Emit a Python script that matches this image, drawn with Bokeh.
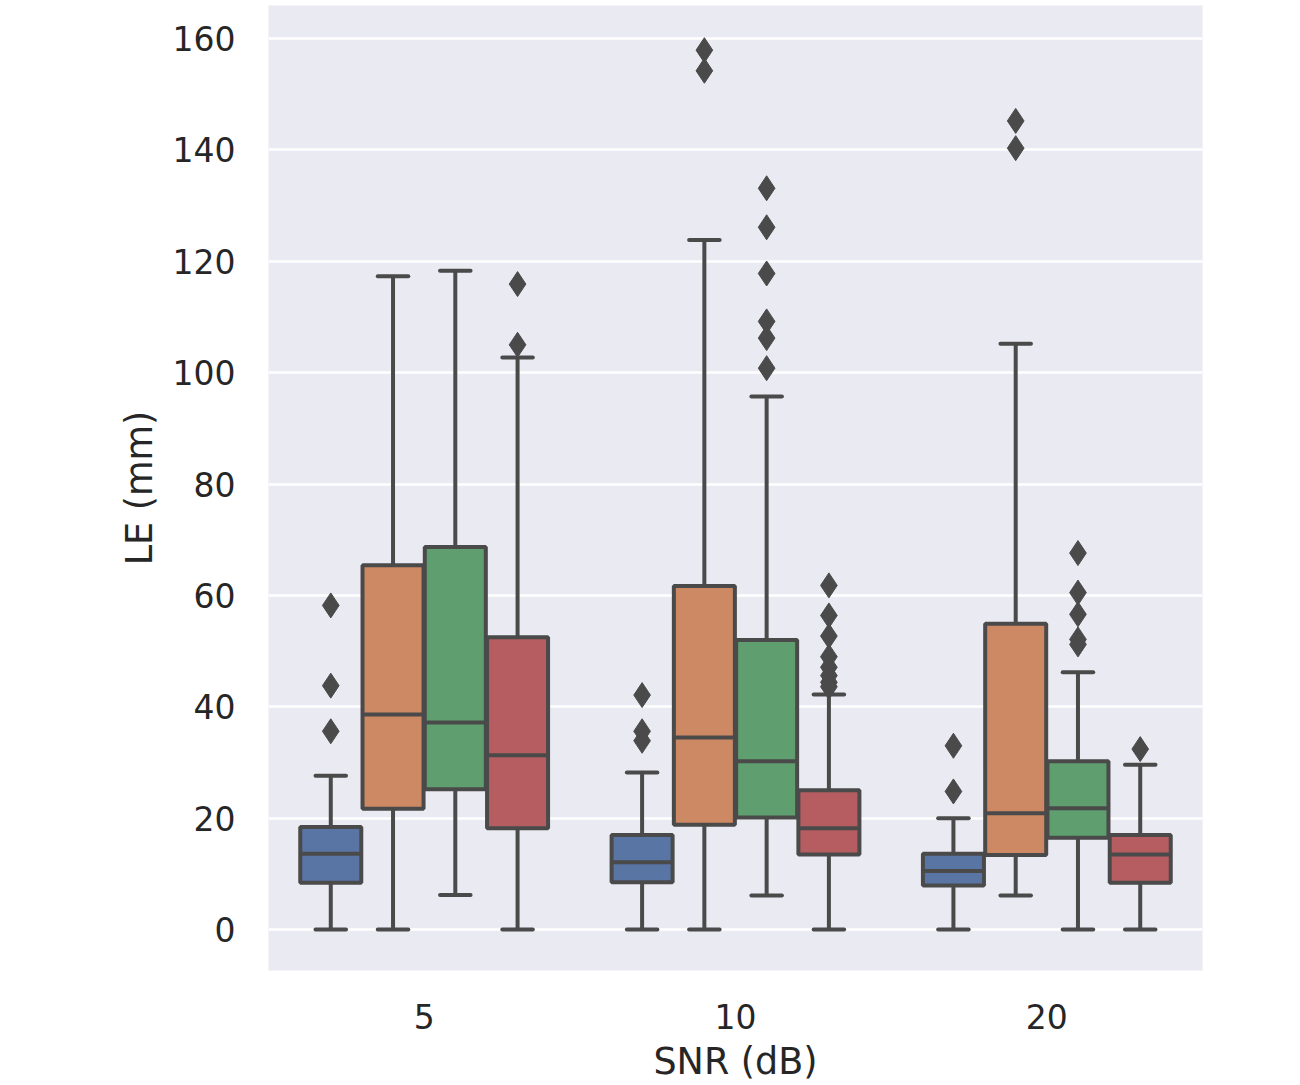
from bokeh.plotting import figure
from bokeh.models import ColumnDataSource, FactorRange, Range1d, FixedTicker
from bokeh.transform import dodge
from bokeh.embed import file_html
from bokeh.resources import INLINE

# ---------------- data ----------------
snr_levels = ["5", "10", "20"]
hue_colors = ["#5975A4", "#CC8963", "#5F9E6E", "#B55D60"]
hue_offsets = [-0.3, -0.1, 0.1, 0.3]
y_ticks = [0, 20, 40, 60, 80, 100, 120, 140, 160]

# rows: SNR level (5, 10, 20); columns: hue (blue, orange, green, red)
whisker_low = [[0.0, 0.0, 6.2, 0.0],
               [0.0, 0.0, 6.1, 0.0],
               [0.0, 6.1, 0.0, 0.0]]
q1 = [[8.4, 21.7, 25.2, 18.2],
      [8.5, 18.8, 20.1, 13.5],
      [7.9, 13.4, 16.5, 8.4]]
median = [[13.6, 38.6, 37.2, 31.3],
          [12.1, 34.5, 30.2, 18.2],
          [10.5, 20.9, 21.8, 13.5]]
q3 = [[18.4, 65.4, 68.7, 52.5],
      [17.0, 61.7, 52.0, 25.0],
      [13.6, 54.9, 30.2, 17.0]]
whisker_high = [[27.6, 117.3, 118.3, 102.7],
                [28.2, 123.8, 95.7, 42.2],
                [20.0, 105.2, 46.2, 29.6]]
outliers = [
    [[58.2, 43.8, 35.6], [], [], [115.9, 105.0]],
    [[42.1, 35.6, 33.9], [157.9, 154.2],
     [133.1, 126.1, 117.8, 109.2, 106.2, 100.8],
     [61.8, 56.4, 52.7, 49.0, 47.1, 45.6, 44.4, 43.6]],
    [[33.0, 24.8], [145.2, 140.3], [67.6, 60.5, 56.6, 52.1, 51.2], [32.4]],
]

# ---------------- styles ----------------
LINE = "#4A4A4A"
TEXT = "#262626"
FONT = "DejaVu Sans"
LW = 4
BOX_W = 0.196

p = figure(
    x_range=FactorRange(factors=snr_levels, range_padding=0),
    y_range=Range1d(-7.35, 165.92),
    width=1300, height=1085,
    output_backend="svg", toolbar_location=None,
    min_border_left=268, min_border_right=98,
    min_border_top=5, min_border_bottom=113,
)
p.background_fill_color = "#EAEAF2"
p.border_fill_color = "white"
p.outline_line_color = None

for h, (color, off) in enumerate(zip(hue_colors, hue_offsets)):
    src = ColumnDataSource(dict(
        snr=snr_levels,
        lo=[whisker_low[g][h] for g in range(3)],
        q1=[q1[g][h] for g in range(3)],
        med=[median[g][h] for g in range(3)],
        q3=[q3[g][h] for g in range(3)],
        hi=[whisker_high[g][h] for g in range(3)],
    ))
    xc = dodge("snr", off, range=p.x_range)
    p.vbar(x=xc, width=BOX_W, bottom="q1", top="q3", source=src,
           fill_color=color, line_color=LINE, line_width=LW)
    p.segment(x0=dodge("snr", off - BOX_W / 2, range=p.x_range), y0="med",
              x1=dodge("snr", off + BOX_W / 2, range=p.x_range), y1="med",
              source=src, line_color=LINE, line_width=LW)
    p.segment(x0=xc, y0="q3", x1=xc, y1="hi", source=src,
              line_color=LINE, line_width=LW)
    p.segment(x0=xc, y0="q1", x1=xc, y1="lo", source=src,
              line_color=LINE, line_width=LW)
    for col in ("hi", "lo"):
        p.segment(x0=dodge("snr", off - BOX_W / 4, range=p.x_range), y0=col,
                  x1=dodge("snr", off + BOX_W / 4, range=p.x_range), y1=col,
                  source=src, line_color=LINE, line_width=LW, line_cap="round")
    ox, oy = [], []
    for g in range(3):
        for v in outliers[g][h]:
            ox.append(snr_levels[g])
            oy.append(v)
    osrc = ColumnDataSource(dict(snr=ox, y=oy))
    p.scatter(x=dodge("snr", off, range=p.x_range), y="y", source=osrc,
              marker="diamond", size=25, fill_color=LINE, line_color=LINE,
              line_width=1)

# grid
p.xgrid.grid_line_color = None
p.ygrid.grid_line_color = "white"
p.ygrid.grid_line_width = 2.5
p.yaxis.ticker = FixedTicker(ticks=y_ticks)

for ax in (p.xaxis[0], p.yaxis[0]):
    ax.axis_line_color = None
    ax.major_tick_line_color = None
    ax.minor_tick_line_color = None
    ax.major_tick_out = 0
    ax.major_tick_in = 0
    ax.major_label_text_font = FONT
    ax.major_label_text_font_size = "33px"
    ax.major_label_text_color = TEXT
    ax.axis_label_text_font = FONT
    ax.axis_label_text_font_size = "36.5px"
    ax.axis_label_text_font_style = "normal"
    ax.axis_label_text_color = TEXT

p.xaxis.axis_label = "SNR (dB)"
p.yaxis.axis_label = "LE (mm)"
p.xaxis.major_label_standoff = 33
p.xaxis.axis_label_standoff = 8
p.yaxis.major_label_standoff = 33
p.yaxis.axis_label_standoff = 9

open("out.html", "w").write(file_html(p, INLINE))
